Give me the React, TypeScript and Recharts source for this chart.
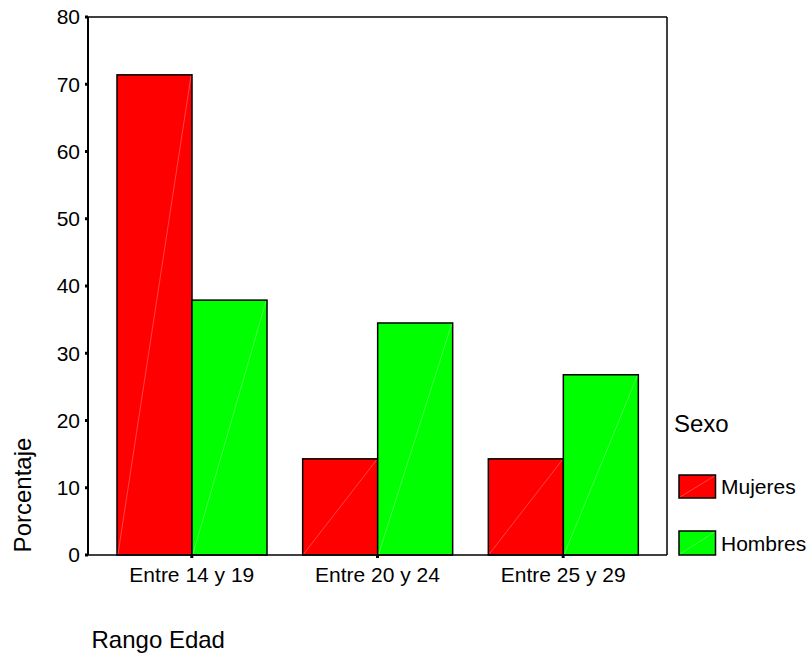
import React from "react";
import {
  BarChart,
  Bar,
  XAxis,
  YAxis,
  Legend,
  Label,
} from "recharts";

const rangos = ["Entre 14 y 19", "Entre 20 y 24", "Entre 25 y 29"];
const mujeres = [71.4, 14.3, 14.3];
const hombres = [37.9, 34.5, 26.8];
const yTicks = [0, 10, 20, 30, 40, 50, 60, 70, 80];
const sexos = ["Mujeres", "Hombres"];

const data = rangos.map((rango, i) => ({
  rango,
  mujeres: mujeres[i],
  hombres: hombres[i],
}));

const FONT = "'Liberation Sans', Arial, sans-serif";

// bar with the faint diagonal seen in the original export
const DiagBar = (props: any) => {
  const { x, y, width, height, fill } = props;
  if (!height || height <= 0) return null;
  return (
    <g>
      <rect x={x} y={y} width={width} height={height} fill={fill} stroke="#000" strokeWidth={1.5} />
      <line
        x1={x + 1}
        y1={y + height - 1}
        x2={x + width - 1}
        y2={y + 1}
        stroke="#fff"
        strokeOpacity={0.45}
        strokeWidth={0.6}
      />
    </g>
  );
};

const renderLegend = (props: any) => {
  const payload = [...(props.payload || [])].sort(
    (a: any, b: any) => sexos.indexOf(a.value) - sexos.indexOf(b.value)
  );
  const rows = [
    { y: 75, h: 23 },
    { y: 131, h: 24 },
  ];
  return (
    <svg width={136} height={165} style={{ fontFamily: FONT }}>
      <text x={0} y={31.7} fontSize={24} fill="#000">
        Sexo
      </text>
      {payload.map((entry: any, i: number) => {
        const r = rows[i] || rows[0];
        return (
          <g key={entry.value}>
            <rect x={5} y={r.y} width={36.5} height={r.h} fill={entry.color} stroke="#000" strokeWidth={1.5} />
            <line
              x1={6}
              y1={r.y + r.h - 1}
              x2={40.5}
              y2={r.y + 1}
              stroke="#fff"
              strokeOpacity={0.45}
              strokeWidth={0.6}
            />
            <text x={47} y={r.y + r.h / 2 + 7.5} fontSize={21} fill="#000">
              {entry.value}
            </text>
          </g>
        );
      })}
    </svg>
  );
};

const xTitle = (props: any) => {
  const { viewBox } = props;
  return (
    <text x={viewBox.x + 3.5} y={viewBox.y + 93} fontSize={24} fill="#000" fontFamily={FONT}>
      Rango Edad
    </text>
  );
};

const yTitle = (props: any) => {
  const { viewBox } = props;
  const cx = 22;
  const cy = viewBox.y + viewBox.height - 60;
  return (
    <text
      x={cx}
      y={cy}
      fontSize={24}
      fill="#000"
      fontFamily={FONT}
      textAnchor="middle"
      dominantBaseline="central"
      transform={`rotate(-90, ${cx}, ${cy})`}
    >
      Porcentaje
    </text>
  );
};

export default function App() {
  const tickStyle = { fill: "#000", fontSize: 21, fontFamily: FONT };
  return (
    <div style={{ position: "absolute", left: 0, top: 0, background: "#fff" }}>
      <BarChart
        width={810}
        height={655}
        data={data}
        margin={{ top: 16, right: 142, left: 28, bottom: 60 }}
        barCategoryGap={18}
        barGap={0}
      >
        <XAxis
          dataKey="rango"
          padding={{ left: 11, right: 11 }}
          height={40}
          tick={tickStyle}
          tickSize={3}
          tickMargin={9}
          axisLine={{ stroke: "#000", strokeWidth: 1.5 }}
          tickLine={{ stroke: "#000", strokeWidth: 3 }}
        >
          <Label content={xTitle} />
        </XAxis>
        <XAxis
          xAxisId="top"
          dataKey="rango"
          orientation="top"
          height={1}
          tick={false}
          tickLine={false}
          axisLine={{ stroke: "#000", strokeWidth: 1.5 }}
        />
        <YAxis
          domain={[0, 80]}
          ticks={yTicks}
          width={60}
          tick={tickStyle}
          tickSize={3}
          tickMargin={5}
          axisLine={{ stroke: "#000", strokeWidth: 2 }}
          tickLine={{ stroke: "#000", strokeWidth: 3 }}
        >
          <Label content={yTitle} />
        </YAxis>
        <YAxis
          yAxisId="right"
          orientation="right"
          domain={[0, 80]}
          width={1}
          tick={false}
          tickLine={false}
          axisLine={{ stroke: "#000", strokeWidth: 1.5 }}
        />
        <Legend
          layout="vertical"
          align="center"
          verticalAlign="middle"
          content={renderLegend}
          wrapperStyle={{ left: 674, top: 400, width: 136, height: 165 }}
        />
        <Bar dataKey="mujeres" name="Mujeres" fill="#FF0000" shape={DiagBar} isAnimationActive={false} />
        <Bar dataKey="hombres" name="Hombres" fill="#00FF00" shape={DiagBar} isAnimationActive={false} />
      </BarChart>
    </div>
  );
}
